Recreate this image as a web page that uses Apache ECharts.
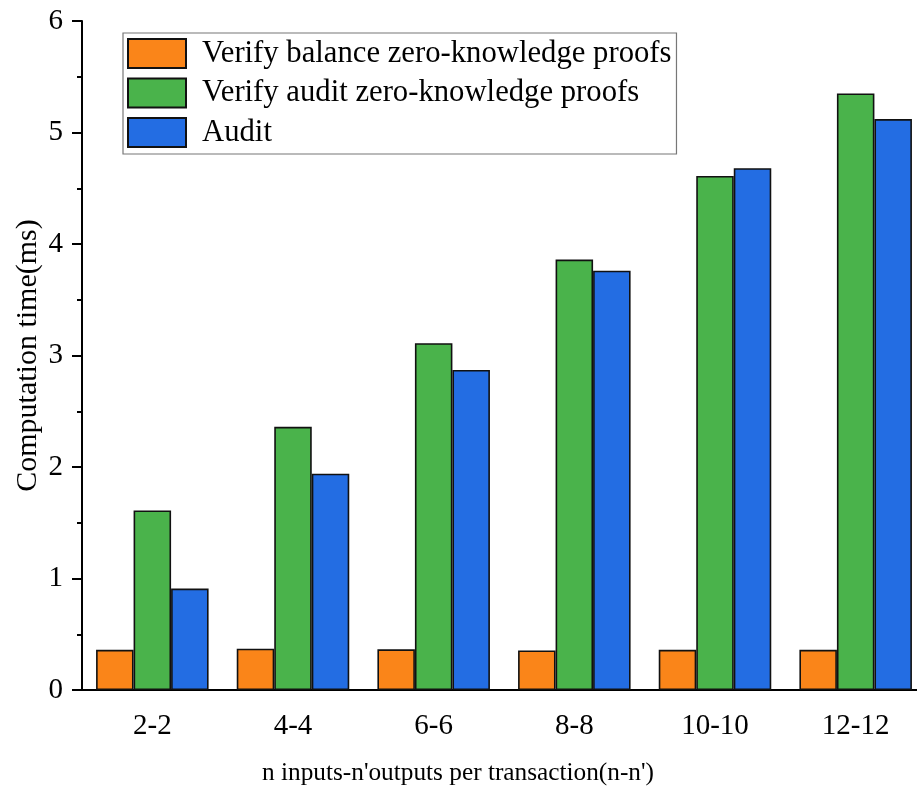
<!DOCTYPE html>
<html>
<head>
<meta charset="utf-8">
<script src="https://cdn.jsdelivr.net/npm/echarts@6/dist/echarts.min.js"></script>
<style>
  html, body { margin: 0; padding: 0; background: #fff; }
  #chart { width: 917px; height: 791px; }
</style>
</head>
<body>
<div id="chart"></div>
<script>
// Transaction sizes (n inputs - n' outputs)
const categories = ['2-2', '4-4', '6-6', '8-8', '10-10', '12-12'];

// Computation time in ms
const verifyBalance = [0.36, 0.37, 0.365, 0.355, 0.36, 0.36];
const verifyAudit   = [1.61, 2.36, 3.11, 3.86, 4.61, 5.35];
const audit         = [0.91, 1.94, 2.87, 3.76, 4.68, 5.12];

const seriesNames = [
  'Verify balance zero-knowledge proofs',
  'Verify audit zero-knowledge proofs',
  'Audit'
];
const seriesColors = ['#FA8519', '#4AB34B', '#236DE3'];

const FONT = '"Liberation Serif", "DejaVu Serif", serif';

const chart = echarts.init(document.getElementById('chart'), null, { renderer: 'canvas' });

function barSeries(name, data, color) {
  return {
    name: name,
    type: 'bar',
    data: data,
    xAxisIndex: 0,
    barGap: '0%',
    barCategoryGap: '20%',
    itemStyle: { color: color, borderColor: '#111', borderWidth: 1.6 }
  };
}

chart.setOption({
  animation: false,
  backgroundColor: '#fff',
  grid: {
    left: 82, top: 21, width: 844, height: 669,
    containLabel: false, outerBoundsMode: 'none'
  },
  legend: {
    orient: 'vertical',
    left: 123, top: 33,
    padding: [5, 5, 6, 4],
    itemWidth: 58, itemHeight: 29,
    itemGap: 8.5,
    borderColor: '#777', borderWidth: 1.2,
    backgroundColor: '#fff',
    icon: 'rect',
    textStyle: { fontFamily: FONT, fontSize: 30.7, color: '#000', padding: [0, 0, 0, 11] },
    data: seriesNames
  },
  xAxis: [
    {
      type: 'category',
      data: categories,
      name: "n inputs-n'outputs per transaction(n-n')",
      nameLocation: 'middle',
      nameGap: 71,
      nameTextStyle: { fontFamily: FONT, fontSize: 25.3, color: '#000', padding: [0, 92, 0, 0] },
      axisLine: { lineStyle: { color: '#000', width: 2 } },
      axisTick: { alignWithLabel: true, length: 10, lineStyle: { color: '#000', width: 2 } },
      axisLabel: { fontFamily: FONT, fontSize: 29, color: '#000', margin: 22 },
      splitLine: { show: false }
    },
    {
      // boundary ticks between categories
      type: 'category',
      data: categories,
      position: 'bottom',
      axisLine: { show: false },
      axisTick: { length: 5, lineStyle: { color: '#000', width: 2 } },
      axisLabel: { show: false },
      splitLine: { show: false }
    }
  ],
  yAxis: {
    type: 'value',
    min: 0, max: 6, interval: 1,
    name: 'Computation time(ms)',
    nameLocation: 'middle',
    nameGap: 39,
    nameMoveOverlap: false,
    nameTextStyle: { fontFamily: FONT, fontSize: 30, color: '#000' },
    axisLine: { show: true, lineStyle: { color: '#000', width: 2 } },
    axisTick: { show: true, inside: false, length: 10, lineStyle: { color: '#000', width: 2 } },
    minorTick: { show: true, splitNumber: 2, length: 5, lineStyle: { color: '#000', width: 2 } },
    axisLabel: { fontFamily: FONT, fontSize: 29, color: '#000', margin: 19 },
    splitLine: { show: false }
  },
  series: [
    barSeries(seriesNames[0], verifyBalance, seriesColors[0]),
    barSeries(seriesNames[1], verifyAudit, seriesColors[1]),
    barSeries(seriesNames[2], audit, seriesColors[2])
  ]
});
</script>
</body>
</html>
